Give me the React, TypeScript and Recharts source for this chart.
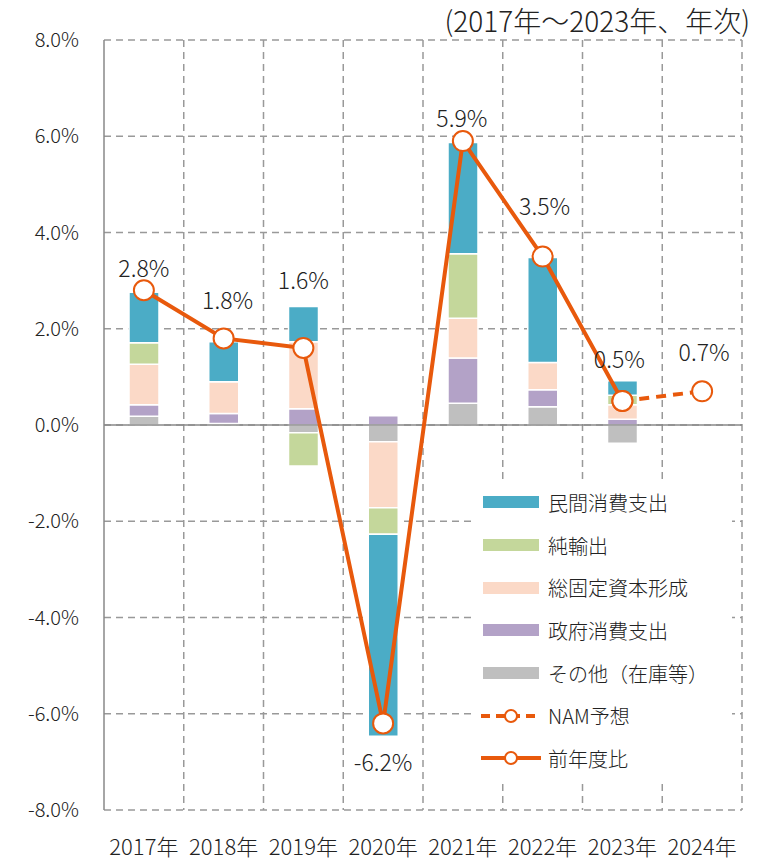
import {
	Bar,
	CartesianGrid,
	ComposedChart,
	Line,
	ReferenceLine,
	XAxis,
	YAxis,
} from "recharts";

const YEARS = ["2017年", "2018年", "2019年", "2020年", "2021年", "2022年", "2023年", "2024年"];
const PRIVATE_CONSUMPTION = [1.05, 0.83, 0.73, -4.2, 2.31, 2.18, 0.3, null];
const NET_EXPORTS = [0.45, 0, -0.69, -0.55, 1.34, 0, 0.2, null];
const GFCF = [0.84, 0.66, 1.39, -1.37, 0.83, 0.57, 0.3, null];
const GOV_CONSUMPTION = [0.24, 0.21, 0.34, 0.19, 0.94, 0.35, 0.12, null];
const OTHER = [0.18, 0.03, -0.16, -0.35, 0.45, 0.38, -0.38, null];
const GROWTH = [2.8, 1.8, 1.6, -6.2, 5.9, 3.5, 0.5, null];
const FORECAST = [null, null, null, null, null, null, 0.5, 0.7];
const Y_TICKS = [-8, -6, -4, -2, 0, 2, 4, 6, 8];

const data = YEARS.map((year, i) => ({
	year,
	private: PRIVATE_CONSUMPTION[i],
	net: NET_EXPORTS[i],
	gfcf: GFCF[i],
	gov: GOV_CONSUMPTION[i],
	other: OTHER[i],
	growth: GROWTH[i],
	forecast: FORECAST[i],
}));

const FONT = '"Noto Sans CJK JP", "Noto Sans", sans-serif';
const ORANGE = "#E8590C";
const BLUE = "#4BACC6";
const GREEN = "#C4D79B";
const PEACH = "#FBD9C7";
const PURPLE = "#B3A2C7";
const GRAY = "#BFBFBF";

// hand tuned label offsets (dx, dy) per point
const LABEL_OFFSETS: [number, number][] = [
	[0, -23],
	[4, -39],
	[0, -69],
	[0, 38],
	[-1, -24],
	[2, -52],
	[-3, -43],
	[2, -40],
];

const renderLabel = (onlyIndex?: number) => (props: any) => {
	const { x, y, value, index } = props;
	if (value == null) return null;
	if (onlyIndex != null && index !== onlyIndex) return null;
	const [dx, dy] = LABEL_OFFSETS[index] || [0, -30];
	return (
		<text
			x={x + dx}
			y={y + dy}
			textAnchor="middle"
			dominantBaseline="central"
			fontSize={23}
			fontWeight={300}
			fill="#222"
			fontFamily={FONT}
		>
			{value.toFixed(1)}%
		</text>
	);
};

const LEGEND_ITEMS = [
	{ name: "民間消費支出", color: BLUE, kind: "box" },
	{ name: "純輸出", color: GREEN, kind: "box" },
	{ name: "総固定資本形成", color: PEACH, kind: "box" },
	{ name: "政府消費支出", color: PURPLE, kind: "box" },
	{ name: "その他（在庫等）", color: GRAY, kind: "box" },
	{ name: "NAM予想", color: ORANGE, kind: "dash" },
	{ name: "前年度比", color: ORANGE, kind: "line" },
];

function LegendBox() {
	return (
		<div
			style={{
				position: "absolute",
				left: 474,
				top: 481,
				width: 258,
				height: 298,
				background: "#fff",
			}}
		>
			{LEGEND_ITEMS.map((item) => (
				<div
					key={item.name}
					style={{ display: "flex", alignItems: "center", height: 42.7 }}
				>
					<svg width={74} height={20} style={{ flex: "none" }}>
						{item.kind === "box" ? (
							<rect x={9} y={4} width={56} height={12} fill={item.color} />
						) : (
							<>
								<line
									x1={7}
									x2={67}
									y1={10}
									y2={10}
									stroke={item.color}
									strokeWidth={4}
									strokeDasharray={item.kind === "dash" ? "9 6" : undefined}
								/>
								<circle cx={37} cy={10} r={6} fill="#fff" stroke={item.color} strokeWidth={2} />
							</>
						)}
					</svg>
					<span style={{ fontFamily: FONT, fontSize: 20, fontWeight: 300, color: "#222" }}>
						{item.name}
					</span>
				</div>
			))}
		</div>
	);
}

const DOT = { r: 10, fill: "#fff", stroke: ORANGE, strokeWidth: 2, strokeDasharray: "0" };

export default function App() {
	return (
		<div style={{ position: "absolute", left: 0, top: 0, width: 762, height: 861, background: "#fff" }}>
			<div
				style={{
					position: "absolute",
					right: 12,
					top: 0,
					fontFamily: FONT,
					fontSize: 28,
					fontWeight: 300,
					color: "#222",
					lineHeight: "40px",
				}}
			>
				(2017年～2023年、年次)
			</div>
			<ComposedChart
				width={762}
				height={861}
				data={data}
				stackOffset="sign"
				margin={{ top: 40, right: 20, bottom: 0, left: 0 }}
				barCategoryGap={0}
			>
				<CartesianGrid
					stroke="#999"
					strokeDasharray="7 5"
					strokeWidth={1.5}
					verticalCoordinatesGenerator={({ offset }: any) =>
						YEARS.map((_, i) => offset.left + ((i + 1) * offset.width) / YEARS.length)
					}
				/>
				<XAxis
					dataKey="year"
					axisLine={false}
					tickLine={false}
					height={51}
					tickMargin={23}
					interval={0}
					tick={{ fontFamily: FONT, fontSize: 22, fontWeight: 300, fill: "#222" }}
				/>
				<YAxis
					domain={[-8, 8]}
					ticks={Y_TICKS}
					width={104}
					axisLine={{ stroke: "#888", strokeWidth: 1.5 }}
					tickLine={false}
					tickMargin={19}
					tickFormatter={(v: number) => `${v.toFixed(1)}%`}
					tick={{ fontFamily: FONT, fontSize: 20, fontWeight: 300, fill: "#222" }}
				/>
				<ReferenceLine y={0} stroke="#888" strokeWidth={1.5} />
				<Bar dataKey="other" stackId="a" fill={GRAY} stroke="#fff" strokeWidth={1.5} barSize={30} isAnimationActive={false} />
				<Bar dataKey="gov" stackId="a" fill={PURPLE} stroke="#fff" strokeWidth={1.5} barSize={30} isAnimationActive={false} />
				<Bar dataKey="gfcf" stackId="a" fill={PEACH} stroke="#fff" strokeWidth={1.5} barSize={30} isAnimationActive={false} />
				<Bar dataKey="net" stackId="a" fill={GREEN} stroke="#fff" strokeWidth={1.5} barSize={30} isAnimationActive={false} />
				<Bar dataKey="private" stackId="a" fill={BLUE} stroke="#fff" strokeWidth={1.5} barSize={30} isAnimationActive={false} />
				<Line
					dataKey="forecast"
					stroke={ORANGE}
					strokeWidth={4}
					strokeDasharray="10 7"
					dot={DOT}
					label={renderLabel(7)}
					isAnimationActive={false}
				/>
				<Line
					dataKey="growth"
					stroke={ORANGE}
					strokeWidth={4}
					dot={DOT}
					label={renderLabel()}
					isAnimationActive={false}
				/>
			</ComposedChart>
			<LegendBox />
		</div>
	);
}
